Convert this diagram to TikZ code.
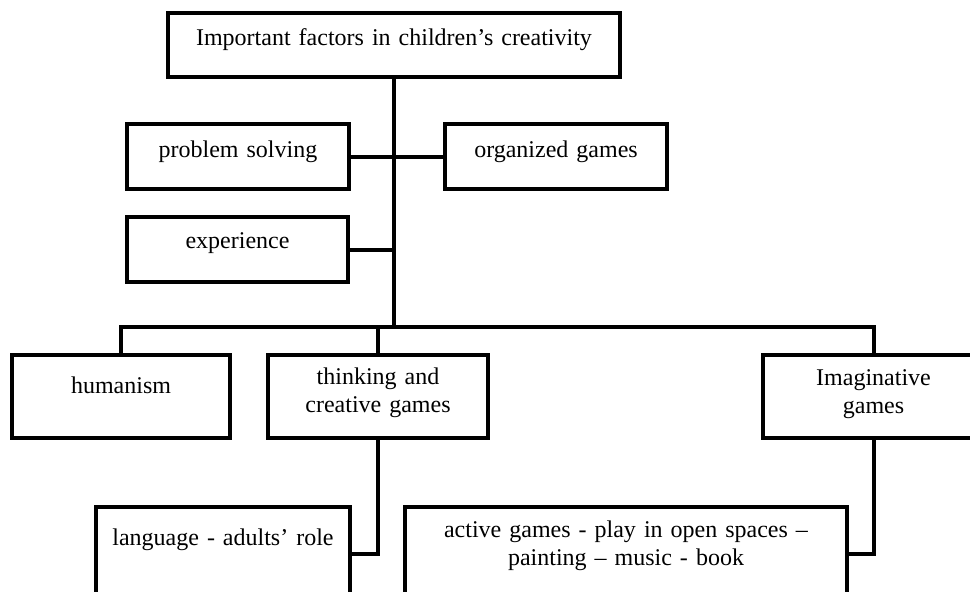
\documentclass[tikz,border=0pt]{standalone}
\usepackage{fontspec}
\setmainfont{Liberation Serif}
\usepackage{tikz}

\begin{document}
\begin{tikzpicture}[x=1pt,y=-1pt,line width=4pt,
                    factor node/.style={draw,inner sep=0pt,align=center,
                      font=\fontsize{24}{28}\selectfont}]
  \useasboundingbox (0,0) rectangle (970,592);
  \clip (0,0) rectangle (970,592);
  \node[factor node,text width=452pt,text height=32pt,text depth=32pt] (top) at (394,45)
    {Important factors in children’s creativity};
  \node[factor node,text width=222pt,text height=33pt,text depth=32pt] (prob) at (238,156.5)
    {problem solving};
  \node[factor node,text width=222pt,text height=33pt,text depth=32pt] (org) at (556,156.5)
    {organized games};
  \node[factor node,text width=221pt,text height=31pt,text depth=34pt] (exp) at (237.5,249.5)
    {experience};
  \node[factor node,text width=218pt,text height=38pt,text depth=45pt] (hum) at (121,396.5)
    {humanism};
  \node[factor node,text width=220pt,text height=29pt,text depth=54pt] (think) at (378,396.5)
    {thinking and\\creative games};
  \node[factor node,text width=221pt,text height=30pt,text depth=53pt] (imag) at (873.5,396.5)
    {Imaginative\\games};
  \node[factor node,text width=254pt,text height=38pt,text depth=55pt] (lang) at (223,553.5)
    {language - adults’ role};
  \node[factor node,text width=442pt,text height=30pt,text depth=63pt] (act) at (626,553.5)
    {active games - play in open spaces –\\painting – music - book};
  \coordinate (bar) at (394,327);

  \draw (top.south) -- (bar);
  \draw (prob.east) -- (org.west);
  \draw (exp.east) -- (exp.east -| bar);
  \draw (hum.north) |- (imag.north |- bar) -- (imag.north);
  \draw (think.north) -- (think.north |- bar);
  \draw (think.south) |- (lang.east);
  \draw (imag.south) |- (act.east);
\end{tikzpicture}
\end{document}
